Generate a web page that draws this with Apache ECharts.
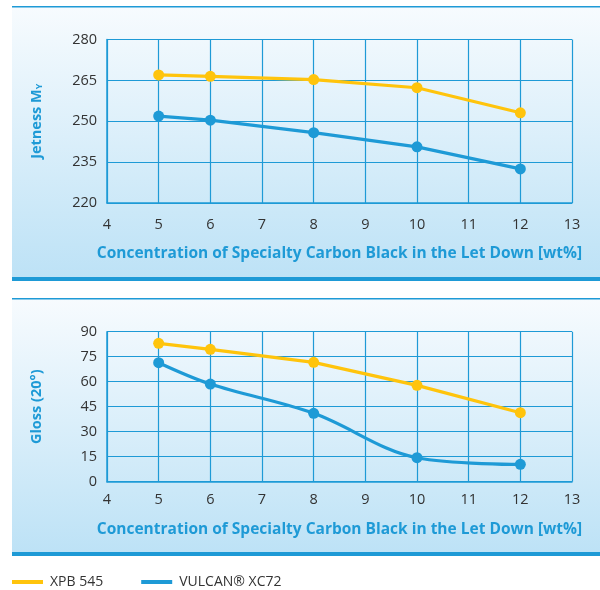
<!DOCTYPE html>
<html>
<head>
<meta charset="utf-8">
<script src="https://cdn.jsdelivr.net/npm/echarts@6/dist/echarts.min.js"></script>
<style>html,body{margin:0;padding:0;background:#fff}#c{width:600px;height:590px}</style>
</head>
<body>
<div id="c"></div>
<script>
// Data
var concentration = [5, 6, 8, 10, 12];
var jetnessXPB = [267, 266.5, 265.3, 262.3, 253.1];
var jetnessVulcan = [251.9, 250.4, 245.8, 240.6, 232.5];
var glossXPB = [83, 79.4, 71.6, 57.8, 41.4];
var glossVulcan = [71.4, 58.6, 41, 14.4, 10.4];
var seriesNames = ['XPB 545', 'VULCAN® XC72'];
var xAxisTitle = 'Concentration of Specialty Carbon Black in the Let Down [wt%]';

var BLUE = '#1e9ad6';
var YELLOW = '#ffc40c';
var FONT = '"Open Sans", "Noto Sans", sans-serif';

function pairs(xs, ys) { return xs.map(function (x, i) { return [x, ys[i]]; }); }

function panel(y0, y1) {
  return [
    { type: 'rect', silent: true, z: -10, shape: { x: 12, y: y0, width: 588, height: y1 - y0 },
      style: { fill: new echarts.graphic.LinearGradient(0, 0, 0, 1, [
        { offset: 0, color: '#f7fbfe' }, { offset: 1, color: '#bde2f6' }]) } },
    { type: 'rect', silent: true, z: -9, shape: { x: 12, y: y0 - 1, width: 588, height: 1.6 }, style: { fill: BLUE } },
    { type: 'rect', silent: true, z: -9, shape: { x: 12, y: y1, width: 588, height: 4 }, style: { fill: BLUE } }
  ];
}

function xAxisDef(gridIndex, labelMargin, nameGap) {
  return {
    gridIndex: gridIndex, type: 'value', min: 4, max: 13, interval: 1,
    axisLine: { show: true, lineStyle: { color: BLUE, width: 1.5 } },
    axisTick: { show: false },
    splitLine: { show: true, lineStyle: { color: BLUE, width: 1.2 } },
    axisLabel: { color: '#333', fontSize: 14.5, fontFamily: FONT, margin: labelMargin },
    name: xAxisTitle, nameLocation: 'middle', nameGap: nameGap,
    nameTextStyle: { color: BLUE, fontSize: 15.5, fontWeight: 'bold', fontFamily: FONT }
  };
}

function yAxisDef(gridIndex, min, max, interval, name) {
  return {
    gridIndex: gridIndex, type: 'value', min: min, max: max, interval: interval,
    axisLine: { show: true, lineStyle: { color: BLUE, width: 1.5 } },
    axisTick: { show: false },
    splitLine: { show: true, lineStyle: { color: BLUE, width: 1.2 } },
    axisLabel: { color: '#333', fontSize: 14.5, fontFamily: FONT, margin: 10 },
    name: name, nameLocation: 'middle', nameGap: 63, nameRotate: 90,
    nameTextStyle: { color: BLUE, fontSize: 14.5, fontWeight: 'bold', fontFamily: FONT,
      rich: { sub: { fontSize: 9, fontWeight: 'bold', color: BLUE, fontFamily: FONT, verticalAlign: 'bottom', padding: [6, 0, 0, 0] } } }
  };
}

function line(name, color, xIdx, yIdx, data, smooth) {
  return {
    name: name, type: 'line', xAxisIndex: xIdx, yAxisIndex: yIdx, data: data,
    smooth: smooth || false, symbol: 'circle', symbolSize: 11,
    lineStyle: { color: color, width: 3.2 }, itemStyle: { color: color },
    z: color === YELLOW ? 3 : 2
  };
}

var chart = echarts.init(document.getElementById('c'), null, { renderer: 'canvas' });
chart.setOption({
  animation: false,
  textStyle: { fontFamily: FONT },
  graphic: panel(7, 277).concat(panel(299, 552)),
  grid: [
    { left: 107, right: 28, top: 39.5, height: 163.5, show: false },
    { left: 107, right: 28, top: 331.7, height: 150, show: false }
  ],
  xAxis: [xAxisDef(0, 14, 43), xAxisDef(1, 11, 40)],
  yAxis: [
    yAxisDef(0, 220, 280, 15, 'Jetness M{sub|Y}'),
    yAxisDef(1, 0, 90, 15, 'Gloss (20°)')
  ],
  legend: {
    left: 12, top: 575, padding: 0, icon: 'rect', itemWidth: 31, itemHeight: 4, itemGap: 38,
    data: seriesNames,
    textStyle: { color: '#333', fontSize: 14, fontFamily: FONT, padding: [0, 0, 0, 2] }
  },
  series: [
    line(seriesNames[0], YELLOW, 0, 0, pairs(concentration, jetnessXPB)),
    line(seriesNames[1], BLUE, 0, 0, pairs(concentration, jetnessVulcan)),
    line(seriesNames[0], YELLOW, 1, 1, pairs(concentration, glossXPB)),
    line(seriesNames[1], BLUE, 1, 1, pairs(concentration, glossVulcan), 0.35)
  ]
});
</script>
</body>
</html>
